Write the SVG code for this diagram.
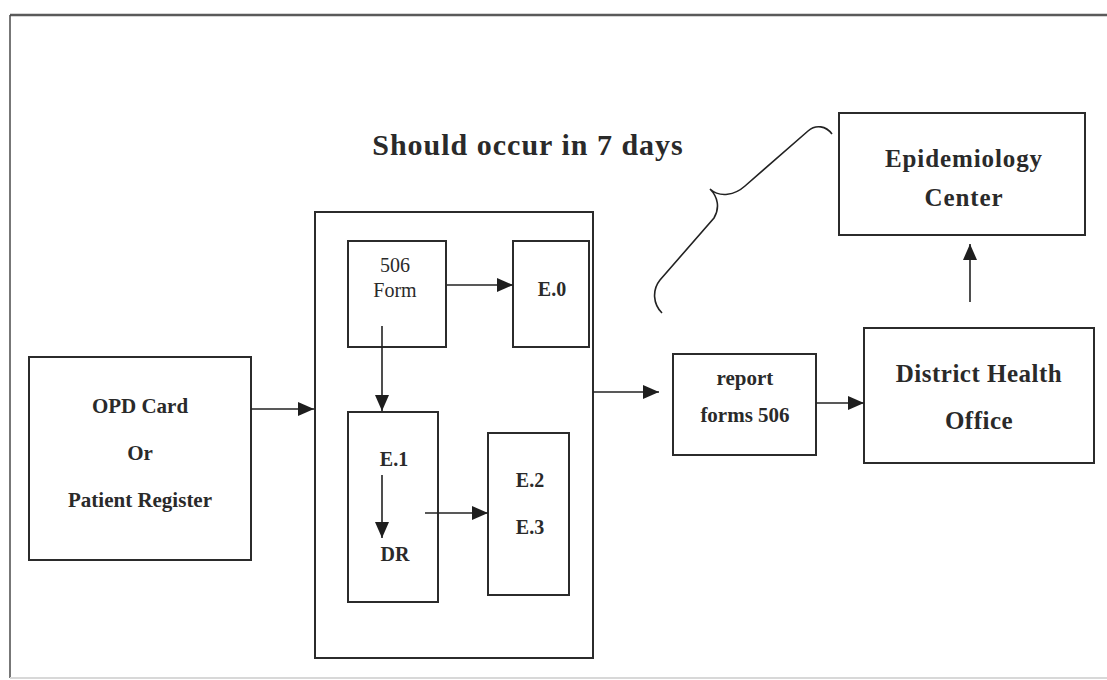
<svg xmlns="http://www.w3.org/2000/svg" width="1107" height="680" viewBox="0 0 1107 680">
<style>
.box{fill:none;stroke:#2b2b2b;stroke-width:2}
.con{fill:none;stroke:#222;stroke-width:1.6}
.t{font-family:"Liberation Serif","Times New Roman",serif;fill:#2a2a2a;text-anchor:middle}
.b{font-weight:bold}
</style>
<defs>
<marker id="ah" markerUnits="userSpaceOnUse" markerWidth="18" markerHeight="14" refX="16" refY="7" orient="auto">
<path d="M0,0 L16,7 L0,14 z" fill="#1e1e1e"/>
</marker>
</defs>
<rect width="1107" height="680" fill="#fff"/>
<g id="frame">
<line x1="10" y1="15" x2="1107" y2="15" stroke="#5a5a5a" stroke-width="2.5"/>
<line x1="10" y1="15" x2="10" y2="678" stroke="#4a4a4a" stroke-width="1.5"/>
<line x1="10" y1="678" x2="1107" y2="678" stroke="#d8d8d8" stroke-width="2"/>
</g>
<g id="title">
<text class="t b" x="528" y="155" font-size="30" letter-spacing="1">Should occur in 7 days</text>
</g>
<g id="brace">
<path class="con" d="M 832,134 C 826,126 816,124 808,131 L 745,186 C 735,195 720,198 710,189 C 718,197 720,208 714,218 L 660,280 C 652,290 653,304 662,313"/>
</g>
<g id="opd">
<rect class="box" x="29" y="357" width="222" height="203"/>
<text class="t b" x="140" y="413" font-size="21">OPD Card</text>
<text class="t b" x="140" y="460" font-size="21">Or</text>
<text class="t b" x="140" y="507" font-size="21">Patient Register</text>
</g>
<g id="central">
<rect class="box" x="315" y="212" width="278" height="446"/>
</g>
<g id="form506">
<rect class="box" x="348" y="241" width="98" height="106"/>
<text class="t" x="395" y="272" font-size="20">506</text>
<text class="t" x="395" y="297" font-size="20">Form</text>
</g>
<g id="e0">
<rect class="box" x="513" y="241" width="76" height="106"/>
<text class="t b" x="552" y="296" font-size="20">E.0</text>
</g>
<g id="e1dr">
<rect class="box" x="348" y="412" width="90" height="190"/>
<text class="t b" x="394" y="466" font-size="20">E.1</text>
<text class="t b" x="395" y="561" font-size="20">DR</text>
</g>
<g id="e2e3">
<rect class="box" x="488" y="433" width="81" height="162"/>
<text class="t b" x="530" y="487" font-size="20">E.2</text>
<text class="t b" x="530" y="534" font-size="20">E.3</text>
</g>
<g id="report">
<rect class="box" x="673" y="354" width="143" height="101"/>
<text class="t b" x="745" y="385" font-size="21">report</text>
<text class="t b" x="745" y="422" font-size="21">forms 506</text>
</g>
<g id="dho">
<rect class="box" x="864" y="328" width="230" height="135"/>
<text class="t b" x="979" y="382" font-size="25" letter-spacing="0.5">District Health</text>
<text class="t b" x="979" y="429" font-size="25" letter-spacing="0.5">Office</text>
</g>
<g id="epi">
<rect class="box" x="839" y="113" width="246" height="122"/>
<text class="t b" x="964" y="167" font-size="25" letter-spacing="0.9">Epidemiology</text>
<text class="t b" x="964" y="206" font-size="25" letter-spacing="0.9">Center</text>
</g>
<g id="connectors">
<line class="con" x1="251" y1="409" x2="314" y2="409" marker-end="url(#ah)"/>
<line class="con" x1="447" y1="285" x2="513" y2="285" marker-end="url(#ah)"/>
<line class="con" x1="382" y1="326" x2="382" y2="411" marker-end="url(#ah)"/>
<line class="con" x1="382" y1="475" x2="382" y2="538" marker-end="url(#ah)"/>
<line class="con" x1="425" y1="513" x2="488" y2="513" marker-end="url(#ah)"/>
<line class="con" x1="593" y1="392" x2="659" y2="392" marker-end="url(#ah)"/>
<line class="con" x1="816" y1="403" x2="864" y2="403" marker-end="url(#ah)"/>
<line class="con" x1="970" y1="302" x2="970" y2="244" marker-end="url(#ah)"/>
</g>
</svg>
